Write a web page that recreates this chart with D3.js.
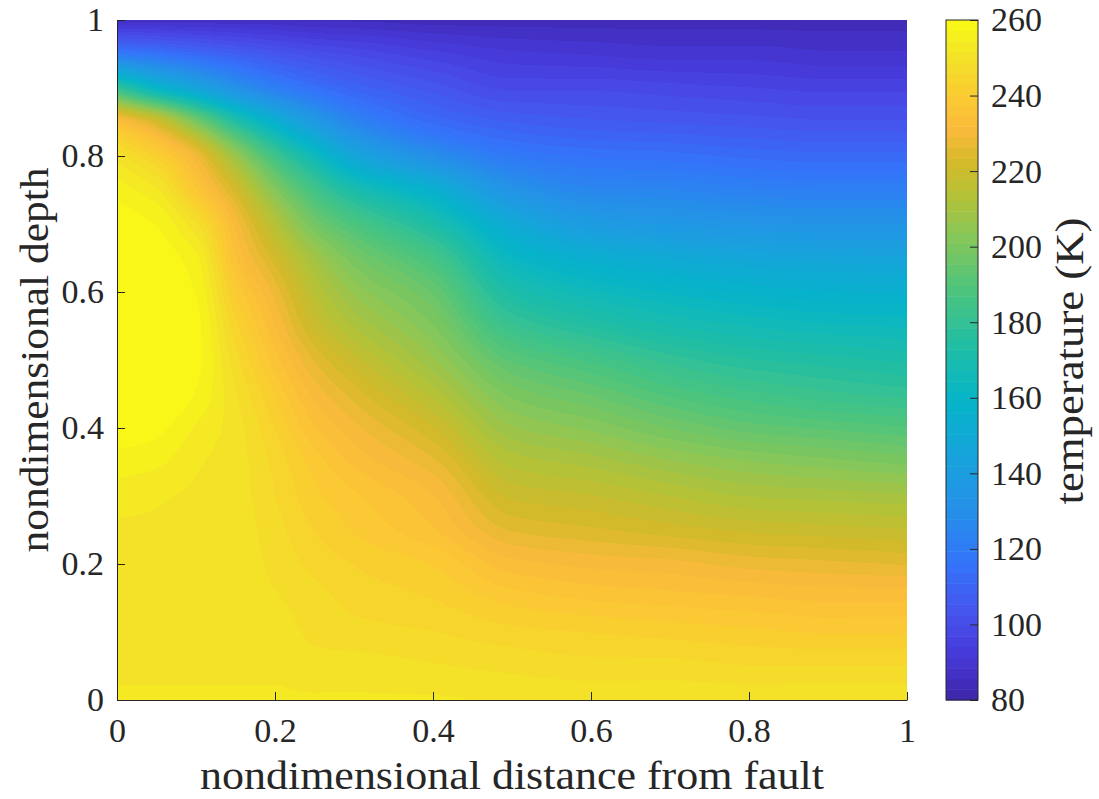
<!DOCTYPE html>
<html>
<head>
<meta charset="utf-8">
<script src="https://cdn.jsdelivr.net/npm/d3@7"></script>
<style>
  body { margin: 0; background: #fff; }
  svg { display: block; }
  text { font-family: "Liberation Serif", "Times New Roman", serif; fill: #262626; }
</style>
</head>
<body>
<svg id="chart" width="1099" height="799"></svg>
<script>
// Grid of nondimensional distance from the fault (columns)
const xGrid = [0, 0.05, 0.1, 0.15, 0.2, 0.25, 0.3, 0.4, 0.5, 0.6, 0.7, 0.8, 0.9, 1.0];
// Nondimensional depth of each row, listed from the top (1) to the bottom (0)
const depthGrid = [1.0, 0.95, 0.9, 0.85, 0.8, 0.75, 0.7, 0.65, 0.6, 0.55, 0.5,
                   0.45, 0.4, 0.35, 0.3, 0.25, 0.2, 0.15, 0.1, 0.05, 0.0];
// Temperature (K), one row per depth, one entry per distance
const temperature = [
  [ 86,  86,  86,  86,  86,  85,  85,  84,  84,  84,  84,  84,  84,  84],
  [120, 116, 112, 108, 104, 101,  99,  95,  92,  91,  90,  90,  89,  89],
  [180, 160, 146, 132, 122, 115, 110, 104,  99,  99,  98,  97,  96,  96],
  [234, 222, 200, 175, 155, 138, 125, 113, 108, 106, 105, 104, 103, 103],
  [250, 242, 229, 207, 184, 165, 147, 130, 119, 116, 115, 113, 112, 112],
  [256, 252, 238, 222, 202, 185, 171, 155, 133, 126, 125, 123, 122, 122],
  [259, 257, 249, 231, 214, 198, 188, 172, 150, 139, 136, 134, 133, 133],
  [260, 259, 255, 235, 222, 209, 199, 186, 162, 154, 150, 147, 146, 145],
  [260, 260, 257, 240, 228, 215, 206, 195, 172, 165, 161, 158, 156, 155],
  [260, 260, 258, 244, 232, 220, 212, 201, 182, 175, 170, 167, 165, 164],
  [260, 260, 258, 247, 236, 226, 219, 207, 192, 186, 180, 176, 174, 172],
  [260, 260, 257, 249, 240, 231, 225, 214, 200, 195, 189, 185, 182, 180],
  [259, 258, 254, 250, 243, 235, 230, 221, 207, 203, 198, 194, 192, 190],
  [256, 255, 252, 250, 245, 239, 234, 227, 214, 211, 207, 204, 202, 200],
  [253, 252, 251, 250, 246, 241, 238, 232, 220, 218, 215, 212, 211, 210],
  [251, 251, 250, 250, 247, 243, 240, 235, 226, 224, 222, 220, 219, 218],
  [250, 250, 250, 250, 248, 245, 243, 240, 233, 231, 230, 228, 227, 226],
  [250, 250, 250, 250, 249, 247, 245, 243, 239, 237, 236, 235, 234, 234],
  [250, 250, 250, 250, 250, 248, 247, 246, 244, 243, 242, 241, 240, 240],
  [251, 251, 251, 251, 251, 250, 250, 249, 248, 247, 247, 246, 246, 246],
  [252, 252, 252, 252, 252, 252, 252, 252, 251, 251, 251, 251, 251, 251]
];

const xTicks = [0, 0.2, 0.4, 0.6, 0.8, 1];
const yTicks = [0, 0.2, 0.4, 0.6, 0.8, 1];
const colorTicks = [80, 100, 120, 140, 160, 180, 200, 220, 240, 260];
const tempRange = [80, 260];

// parula-like colour ramp, sampled into 64 discrete levels
const rampPos = [0, 0.06, 0.12, 0.2, 0.28, 0.36, 0.44, 0.52, 0.6, 0.68, 0.74, 0.79, 0.84, 0.9, 0.95, 1];
const rampHex = ["#3e26a8", "#4636d5", "#4750ec", "#3473fa", "#2490e8", "#17a3dc", "#05b4c8",
                 "#20bea5", "#4bc47f", "#85c75a", "#b3c239", "#d4ba2a", "#fbba3c", "#f9cf2f",
                 "#f2e426", "#f9fa14"];
const nLevels = 64;

const svg = d3.select("#chart");
const x = d3.scaleLinear().domain([0, 1]).range([117, 907]);
const y = d3.scaleLinear().domain([0, 1]).range([700, 20]);
const cbY = d3.scaleLinear().domain(tempRange).range([700, 20]);

const ramp = d3.scaleLinear().domain(rampPos).range(rampHex).interpolate(d3.interpolateRgb);
const levels = d3.range(nLevels).map(i => d3.rgb(ramp((i + 0.5) / nLevels)));
const colorOf = d3.scaleQuantize().domain(tempRange).range(levels);

// monotone cubic (Fritsch-Carlson) slopes for a 1-D profile
function slopes(xs, ys) {
  const n = xs.length, d = [], m = new Array(n);
  for (let k = 0; k < n - 1; k++) d.push((ys[k + 1] - ys[k]) / (xs[k + 1] - xs[k]));
  m[0] = d[0]; m[n - 1] = d[n - 2];
  for (let k = 1; k < n - 1; k++) {
    if (d[k - 1] * d[k] <= 0) { m[k] = 0; continue; }
    const h0 = xs[k] - xs[k - 1], h1 = xs[k + 1] - xs[k];
    const w1 = 2 * h1 + h0, w2 = h1 + 2 * h0;
    m[k] = (w1 + w2) / (w1 / d[k - 1] + w2 / d[k]);
  }
  return m;
}
function hermite(xs, ys, ms, v) {
  const i = Math.min(Math.max(d3.bisectRight(xs, v) - 1, 0), xs.length - 2);
  const h = xs[i + 1] - xs[i], t = (v - xs[i]) / h;
  const t2 = t * t, t3 = t2 * t;
  return (2 * t3 - 3 * t2 + 1) * ys[i] + (t3 - 2 * t2 + t) * h * ms[i]
       + (-2 * t3 + 3 * t2) * ys[i + 1] + (t3 - t2) * h * ms[i + 1];
}

// raster of the temperature field
const depthAsc = depthGrid.slice().reverse();
const rowsAsc = temperature.slice().reverse();
const rowSlopes = rowsAsc.map(r => slopes(xGrid, r));
const x0 = x(0), y0 = y(1);
const W = Math.round(x(1) - x(0)), H = Math.round(y(0) - y(1));
const canvas = document.createElement("canvas");
canvas.width = W; canvas.height = H;
const ctx = canvas.getContext("2d");
const img = ctx.createImageData(W, H);
for (let px = 0; px < W; px++) {
  const xv = x.invert(x0 + px + 0.5);
  const profile = rowsAsc.map((r, j) => hermite(xGrid, r, rowSlopes[j], xv));
  const ms = slopes(depthAsc, profile);
  for (let py = 0; py < H; py++) {
    const dv = y.invert(y0 + py + 0.5);
    const col = colorOf(hermite(depthAsc, profile, ms, dv));
    const k = (py * W + px) * 4;
    img.data[k] = col.r; img.data[k + 1] = col.g; img.data[k + 2] = col.b; img.data[k + 3] = 255;
  }
}
ctx.putImageData(img, 0, 0);
svg.append("image")
  .attr("x", x0).attr("y", y0).attr("width", W).attr("height", H)
  .attr("preserveAspectRatio", "none")
  .attr("href", canvas.toDataURL());

const fmt = d3.format("~g");
const axisColor = "#262626";
function styleAxis(g) {
  g.attr("font-family", null).attr("font-size", 34);
  g.selectAll("path.domain").attr("stroke", axisColor);
  g.selectAll(".tick line").attr("stroke", axisColor);
  g.selectAll(".tick text").attr("fill", axisColor);
}

// bottom axis
const gx = svg.append("g").attr("transform", "translate(0,700)")
  .call(d3.axisBottom(x).tickValues(xTicks).tickFormat(fmt).tickSizeInner(-8).tickSizeOuter(0))
  .call(styleAxis);
gx.selectAll(".tick text").attr("y", 42).attr("dy", null);

// left axis
const gy = svg.append("g").attr("transform", "translate(117,0)")
  .call(d3.axisLeft(y).tickValues(yTicks).tickFormat(fmt).tickSizeInner(-8).tickSizeOuter(0))
  .call(styleAxis);
gy.selectAll(".tick text").attr("x", -13).attr("dy", "0.32em");

// colour bar
const step = (tempRange[1] - tempRange[0]) / nLevels;
svg.append("g").selectAll("rect")
  .data(levels)
  .join("rect")
  .attr("x", 946)
  .attr("width", 32)
  .attr("y", (d, i) => cbY(tempRange[0] + (i + 1) * step))
  .attr("height", (d, i) => cbY(tempRange[0] + i * step) - cbY(tempRange[0] + (i + 1) * step) + 0.5)
  .attr("fill", d => d);
svg.append("rect")
  .attr("x", 946).attr("y", 20).attr("width", 32).attr("height", 680)
  .attr("fill", "none").attr("stroke", axisColor).attr("stroke-width", 1);
const gc = svg.append("g").attr("transform", "translate(978,0)")
  .call(d3.axisRight(cbY).tickValues(colorTicks).tickFormat(fmt).tickSizeInner(-8).tickSizeOuter(0))
  .call(styleAxis);
gc.select("path.domain").remove();
gc.selectAll(".tick text").attr("x", 13).attr("dy", "0.32em");

// axis titles
svg.append("text")
  .attr("x", 512).attr("y", 789)
  .attr("text-anchor", "middle").attr("font-size", 40)
  .attr("textLength", 624).attr("lengthAdjust", "spacingAndGlyphs")
  .text("nondimensional distance from fault");
svg.append("text")
  .attr("transform", "translate(48,360) rotate(-90)")
  .attr("text-anchor", "middle").attr("font-size", 40)
  .attr("textLength", 385).attr("lengthAdjust", "spacingAndGlyphs")
  .text("nondimensional depth");
svg.append("text")
  .attr("transform", "translate(1083,361) rotate(-90)")
  .attr("text-anchor", "middle").attr("font-size", 40)
  .attr("textLength", 287).attr("lengthAdjust", "spacingAndGlyphs")
  .text("temperature (K)");
</script>
</body>
</html>
